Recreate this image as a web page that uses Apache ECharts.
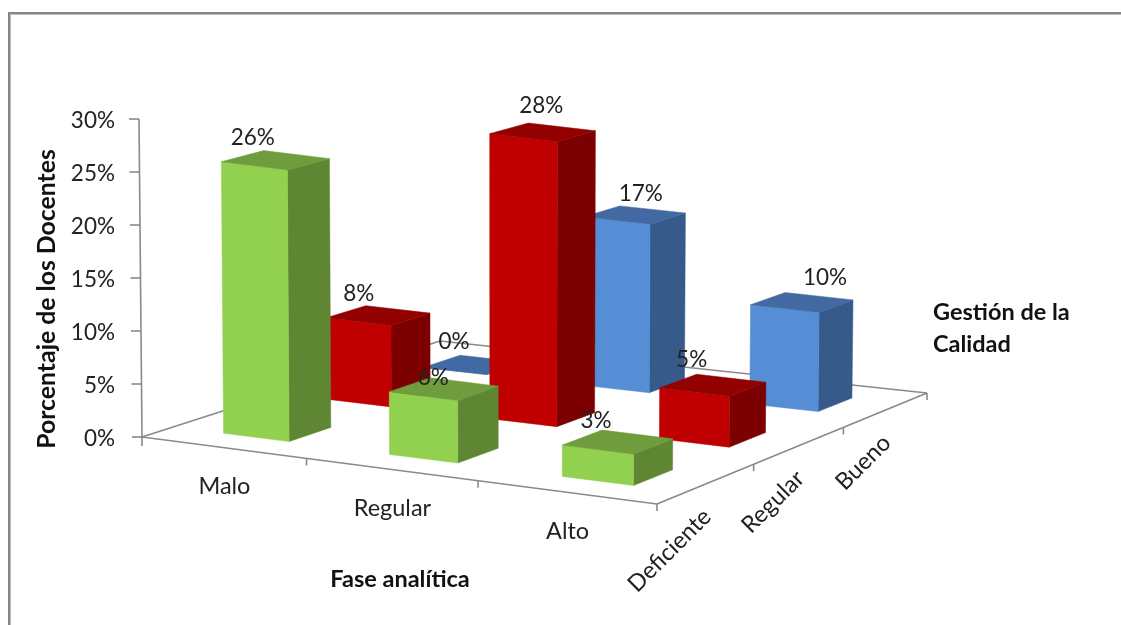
<!DOCTYPE html>
<html>
<head>
<meta charset="utf-8">
<style>html,body{margin:0;padding:0;background:#fff}#chart{width:1121px;height:625px}</style>
<script src="https://cdn.jsdelivr.net/npm/echarts@6/dist/echarts.min.js"></script>
</head>
<body>
<div id="chart"></div>
<script>
// Category names and percentages per quality row
const faseAnalitica = ['Malo', 'Regular', 'Alto'];
const gestionCalidad = ['Deficiente', 'Regular', 'Bueno'];
const deficienteValues = [26, 6, 3];
const regularValues = [8, 28, 5];
const buenoValues = [0, 17, 10];
const axisMin = 0, axisMax = 30, axisStep = 5;

// Floor of the 3D box on screen: front-left, front-right, back-right, back-left
const FLOOR = [[142, 437], [657, 504], [927, 393], [440, 341]];
const FONT = 'Lato, "Open Sans", sans-serif';
const TEXT_COLOR = '#222222';
const AXIS_COLOR = '#8a8a8a';

// Bar footprint inside a floor cell
const BAR_U = [0.31, 0.71];
const BAR_V = [0.29, 0.69];

const ROW_STYLES = [
  { front: '#92d050', side: '#5f8632', top: '#6f9c3d' },
  { front: '#c00000', side: '#7d0000', top: '#930000' },
  { front: '#558ed5', side: '#365b8a', top: '#4269a2' }
];

// Where each percentage sits relative to the rear-left top corner of its bar
const LABEL_SHIFT = [
  [[-11, -13], [3, 0], [-6, -9]],
  [[-7, -12], [13, -17], [-5, -14]],
  [[-6, -14], [21, -12], [40, -15]]
];

// Square-to-quad homography: (u, v) in cell units onto screen pixels
const homography = (function () {
  const [p0, p1, p2, p3] = FLOOR;
  const dx1 = p1[0] - p2[0], dx2 = p3[0] - p2[0], sx = p0[0] - p1[0] + p2[0] - p3[0];
  const dy1 = p1[1] - p2[1], dy2 = p3[1] - p2[1], sy = p0[1] - p1[1] + p2[1] - p3[1];
  const det = dx1 * dy2 - dx2 * dy1;
  const g = (sx * dy2 - dx2 * sy) / det, h = (dx1 * sy - sx * dy1) / det;
  const a = p1[0] - p0[0] + g * p1[0], b = p3[0] - p0[0] + h * p3[0], c = p0[0];
  const d = p1[1] - p0[1] + g * p1[1], e = p3[1] - p0[1] + h * p3[1], f = p0[1];
  return function (u, v) {
    // Ease the column spacing so the convergence along the front edge stays mild
    const s = (u + 0.009 * u * (3 - u)) / 3, t = v / 3, w = g * s + h * t + 1;
    return [(a * s + b * t + c) / w, (d * s + e * t + f) / w];
  };
})();

// Bars shrink slightly with depth compared with the value axis
const depthScale = v => 0.985 - 0.025 * (v - 0.3);

// Lift a floor point by a pixel height; verticals lean toward a point overhead
function lift(pt, px, v) {
  const h = px * depthScale(v);
  return [pt[0] - (500 - pt[0]) * 0.00003 * h, pt[1] - h];
}

function barCorners(i, row, px) {
  const u0 = i + BAR_U[0], u1 = i + BAR_U[1], v0 = row + BAR_V[0], v1 = row + BAR_V[1];
  const fl = homography(u0, v0), fr = homography(u1, v0), br = homography(u1, v1), bl = homography(u0, v1);
  return { fl, fr, br, bl, tfl: lift(fl, px, v0), tfr: lift(fr, px, v0), tbr: lift(br, px, v1), tbl: lift(bl, px, v1) };
}

function barSeries(name, values, row) {
  const st = ROW_STYLES[row];
  return {
    type: 'custom', name, coordinateSystem: 'cartesian2d', silent: true,
    data: values.map((v, i) => [i, v]),
    renderItem(params, api) {
      const c = barCorners(api.value(0), row, api.size([0, api.value(1)])[1]);
      const poly = (points, fill) => ({
        type: 'polygon', shape: { points }, style: { fill, stroke: fill, lineWidth: 0.5 }
      });
      return {
        type: 'group',
        children: [
          poly([c.fr, c.br, c.tbr, c.tfr], st.side),
          poly([c.fl, c.fr, c.tfr, c.tfl], st.front),
          poly([c.tfl, c.tfr, c.tbr, c.tbl], st.top)
        ]
      };
    }
  };
}

function valueLabelSeries(values, row) {
  return {
    type: 'custom', coordinateSystem: 'cartesian2d', silent: true, z: 10,
    data: values.map((v, i) => [i, v]),
    renderItem(params, api) {
      const i = api.value(0), v = api.value(1);
      const c = barCorners(i, row, api.size([0, v])[1]);
      const s = LABEL_SHIFT[row][i];
      return {
        type: 'text',
        style: {
          x: c.tbl[0] + s[0], y: c.tbl[1] + s[1], text: v + '%',
          font: '22.5px ' + FONT, fill: TEXT_COLOR, align: 'center', verticalAlign: 'middle'
        }
      };
    }
  };
}

// Floor outline, tilted value axis, ticks and the two category scales
const boxSeries = {
  type: 'custom', coordinateSystem: 'cartesian2d', silent: true, z: 1,
  data: [[0, 0]],
  renderItem(params, api) {
    const line = (a, b) => ({
      type: 'line', shape: { x1: a[0], y1: a[1], x2: b[0], y2: b[1] },
      style: { stroke: AXIS_COLOR, lineWidth: 1.6 }
    });
    const kids = [];
    const F = FLOOR;
    kids.push(line(F[0], F[1]), line(F[1], F[2]), line(F[2], F[3]), line(F[3], F[0]));

    // Value axis runs from the floor corner up to the top tick, leaning a little
    const yBase = api.coord([0, axisMin])[1];
    const lean = v => F[0][0] - 3 * (yBase - api.coord([0, v])[1]) / (yBase - api.coord([0, axisMax])[1]);
    kids.push(line([lean(axisMax), api.coord([0, axisMax])[1]], F[0]));
    for (let v = axisMin; v <= axisMax; v += axisStep) {
      const y = api.coord([0, v])[1], x = lean(v);
      kids.push(line([x - 10, y], [x, y]));
    }
    kids.push(line(F[0], [F[0][0], F[0][1] + 9]));

    for (let u = 1; u <= 3; u++) {
      const p = homography(u, 0);
      kids.push(line(p, [p[0], p[1] + 7]));
    }
    for (let v = 1; v <= 3; v++) {
      const p = homography(3, v);
      kids.push(line(p, [p[0], p[1] + 7]));
    }

    faseAnalitica.forEach((name, i) => {
      const p = homography(i + 0.5, 0);
      kids.push({
        type: 'text',
        style: { x: p[0] + 1, y: p[1] + 39, text: name, font: '23.5px ' + FONT, fill: TEXT_COLOR, align: 'center', verticalAlign: 'middle' }
      });
    });
    gestionCalidad.forEach((name, j) => {
      const p = homography(3, j + 0.5);
      kids.push({
        type: 'text', x: p[0] + 1, y: p[1] + 29, rotation: Math.PI / 4,
        style: { x: 0, y: 0, text: name, font: '23.5px ' + FONT, fill: TEXT_COLOR, align: 'right', verticalAlign: 'middle' }
      });
    });
    return { type: 'group', children: kids };
  }
};

const chart = echarts.init(document.getElementById('chart'), null, { renderer: 'canvas' });
chart.setOption({
  animation: false,
  backgroundColor: '#ffffff',
  grid: { left: 139, right: 190, top: 119, bottom: 188, containLabel: false },
  xAxis: { type: 'category', data: faseAnalitica, show: false },
  yAxis: {
    type: 'value', min: axisMin, max: axisMax, interval: axisStep,
    name: 'Porcentaje de los Docentes', nameLocation: 'middle', nameGap: 79, nameRotate: 90,
    nameTextStyle: { fontFamily: FONT, fontWeight: 'bold', fontSize: 24.8, color: '#111111', padding: [0, 42, 0, 0] },
    axisLine: { show: false }, axisTick: { show: false }, splitLine: { show: false },
    axisLabel: { formatter: '{value}%', fontFamily: FONT, fontSize: 22.5, color: TEXT_COLOR, margin: 24, verticalAlign: 'top', lineHeight: 4 }
  },
  graphic: [
    { type: 'line', shape: { x1: 9, y1: 14.5, x2: 1121, y2: 14.5 }, style: { stroke: '#bdbdbd', lineWidth: 1 } },
    { type: 'line', shape: { x1: 10.5, y1: 14, x2: 10.5, y2: 625 }, style: { stroke: '#bdbdbd', lineWidth: 1 } },
    { type: 'line', shape: { x1: 8, y1: 13, x2: 1121, y2: 13 }, style: { stroke: '#868686', lineWidth: 2 } },
    { type: 'line', shape: { x1: 9, y1: 12, x2: 9, y2: 625 }, style: { stroke: '#868686', lineWidth: 2 } },
    { type: 'text', style: { x: 400, y: 579, text: 'Fase analítica', font: 'bold 23.5px ' + FONT, fill: '#111111', align: 'center', verticalAlign: 'middle' } },
    { type: 'text', style: { x: 933, y: 312, text: 'Gestión de la', font: 'bold 23.5px ' + FONT, fill: '#111111', align: 'left', verticalAlign: 'middle' } },
    { type: 'text', style: { x: 933, y: 344, text: 'Calidad', font: 'bold 23.5px ' + FONT, fill: '#111111', align: 'left', verticalAlign: 'middle' } }
  ],
  series: [
    boxSeries,
    barSeries(gestionCalidad[2], buenoValues, 2),
    barSeries(gestionCalidad[1], regularValues, 1),
    barSeries(gestionCalidad[0], deficienteValues, 0),
    valueLabelSeries(buenoValues, 2),
    valueLabelSeries(regularValues, 1),
    valueLabelSeries(deficienteValues, 0)
  ]
});
</script>
</body>
</html>
